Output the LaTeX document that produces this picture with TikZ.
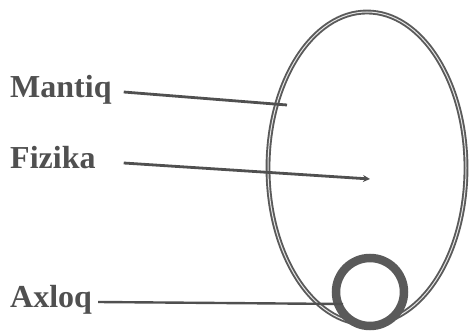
\documentclass[tikz,border=0pt]{standalone}
\usepackage{fontspec}
\setmainfont{Liberation Serif}
\usetikzlibrary{arrows.meta,calc}
\definecolor{ink}{HTML}{505050}
\definecolor{ringc}{HTML}{5A5A5A}
\tikzset{
  lbl/.style={anchor=base west, inner sep=0pt, text=ink, font=\fontsize{32}{36}\selectfont\bfseries},
  conn/.style={draw=ink, line width=2.8pt},
  egg/.style={draw=ringc, line width=1.9pt, double=white!80!gray, double distance=1pt},
  ring/.style={draw=ringc, line width=8.5pt, fill=white}
}
\begin{document}
\begin{tikzpicture}[x=1pt,y=1pt]
\useasboundingbox (0,0) rectangle (472,333);
\draw[egg] (367,165) ellipse [x radius=99, y radius=156];
\node[lbl] (mantiq) at (10,236) {Mantiq};
\node[lbl] (fizika) at (10,165) {Fizika};
\node[lbl] (axloq) at (10,26) {Axloq};
\coordinate (me) at (287,228);
\coordinate (fe) at (370,154);
\coordinate (ae) at (343,29);
\draw[conn] ($(mantiq.base east)+(12,5)$) -- (me);
\draw[conn, -{Stealth[length=7pt,width=7pt]}] ($(fizika.base east)+(28,5)$) -- (fe);
\draw[ring] (370,41) circle [radius=34];
\draw[conn, line width=2.4pt] ($(axloq.base east)+(6,5)$) -- (ae);
\end{tikzpicture}
\end{document}
